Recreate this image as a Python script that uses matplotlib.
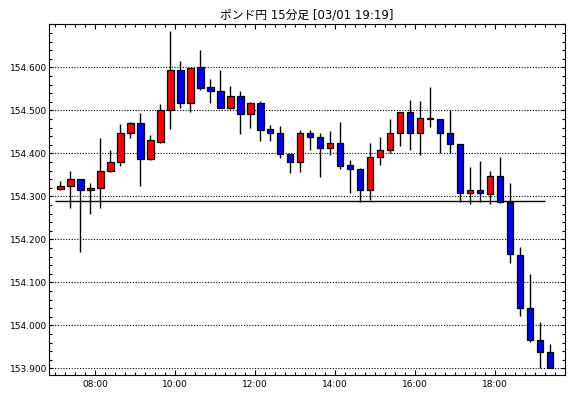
import matplotlib
matplotlib.use('Agg')
import matplotlib.pyplot as plt
from matplotlib.ticker import MultipleLocator, FixedLocator, FuncFormatter
import numpy as np

# 15分足 07:00 - 19:15
start_hour = 7.0
opens = [154.316, 154.323, 154.340, 154.314, 154.319, 154.358, 154.379, 154.447, 154.470, 154.386,
         154.426, 154.500, 154.593, 154.516, 154.600, 154.554, 154.545, 154.506, 154.533, 154.492,
         154.517, 154.456, 154.447, 154.398, 154.379, 154.447, 154.437, 154.412, 154.423, 154.372,
         154.363, 154.315, 154.391, 154.407, 154.447, 154.495, 154.447, 154.481, 154.479, 154.447,
         154.421, 154.307, 154.314, 154.305, 154.347, 154.287, 154.163, 154.040, 153.965, 153.937]
highs = [154.336, 154.359, 154.340, 154.331, 154.436, 154.408, 154.468, 154.473, 154.494, 154.443,
         154.515, 154.684, 154.614, 154.598, 154.640, 154.573, 154.594, 154.556, 154.545, 154.520,
         154.522, 154.466, 154.463, 154.398, 154.454, 154.454, 154.447, 154.452, 154.473, 154.384,
         154.365, 154.423, 154.438, 154.480, 154.495, 154.524, 154.522, 154.554, 154.480, 154.501,
         154.421, 154.367, 154.382, 154.359, 154.392, 154.331, 154.181, 154.119, 154.008, 153.956]
lows = [154.314, 154.273, 154.170, 154.260, 154.273, 154.356, 154.371, 154.436, 154.323, 154.384,
        154.423, 154.457, 154.506, 154.497, 154.547, 154.518, 154.506, 154.503, 154.446, 154.460,
        154.429, 154.429, 154.390, 154.355, 154.357, 154.408, 154.346, 154.397, 154.364, 154.308,
        154.287, 154.292, 154.373, 154.400, 154.417, 154.408, 154.397, 154.462, 154.400, 154.400,
        154.287, 154.281, 154.287, 154.282, 154.284, 154.146, 154.022, 153.962, 153.900, 153.901]
closes = [154.324, 154.340, 154.314, 154.319, 154.358, 154.379, 154.447, 154.470, 154.386, 154.431,
          154.500, 154.593, 154.516, 154.598, 154.553, 154.544, 154.506, 154.533, 154.492, 154.516,
          154.455, 154.447, 154.398, 154.379, 154.447, 154.437, 154.412, 154.423, 154.371, 154.363,
          154.315, 154.391, 154.408, 154.447, 154.495, 154.447, 154.481, 154.480, 154.447, 154.421,
          154.307, 154.314, 154.307, 154.347, 154.287, 154.165, 154.040, 153.965, 153.939, 153.901]
ref_level = 154.288
price_ticks = [153.9, 154.0, 154.1, 154.2, 154.3, 154.4, 154.5, 154.6]
title = 'ポンド円 15分足 [03/01 19:19]'

plt.rcParams['font.family'] = ['Noto Sans CJK JP', 'DejaVu Sans']


def hhmm(x, pos):
    h = int(round(x * 60)) // 60
    m = int(round(x * 60)) % 60
    return '%02d:%02d' % (h, m)


def main():
    o = np.array(opens)
    c = np.array(closes)
    times = start_hour + 0.25 * np.arange(len(o))
    xc = times + 0.125

    fig = plt.figure(figsize=(5.7, 3.98), dpi=100)
    ax = fig.add_axes([0.0865, 0.057, 0.9047, 0.8827])

    for y in price_ticks:
        ax.axhline(y, color='black', lw=0.8, ls=(0, (1, 1.5)), zorder=1)
    ax.hlines(ref_level, start_hour, times[-1], color='black', lw=1.0, zorder=2)

    ax.vlines(xc, lows, highs, color='black', lw=1.0, zorder=3)
    cols = np.where(c > o, '#ff0000', '#0000ff')
    ax.bar(xc, np.abs(c - o), bottom=np.minimum(o, c), width=10 / 60,
           color=cols, edgecolor='black', linewidth=0.9, zorder=4)

    ax.set_xlim(6 + 51 / 60, 19.75)
    ax.set_ylim(153.8837, 154.7007)

    ax.xaxis.set_major_locator(MultipleLocator(2))
    ax.xaxis.set_minor_locator(MultipleLocator(0.25))
    ax.xaxis.set_major_formatter(FuncFormatter(hhmm))
    ax.yaxis.set_major_locator(FixedLocator(price_ticks))
    ax.yaxis.set_minor_locator(MultipleLocator(0.02))
    ax.yaxis.set_major_formatter(FuncFormatter(lambda v, p: '%.3f' % v))
    ax.tick_params(which='both', direction='in', top=True, right=True, width=0.8,
                   labelsize=6.5, colors='black')
    ax.tick_params(axis='x', which='major', length=3.3, pad=3.5)
    ax.tick_params(axis='x', which='minor', length=2.0)
    ax.tick_params(axis='y', which='major', length=2.9, pad=1.5)
    ax.tick_params(axis='y', which='minor', length=2.2)
    for lab in ax.get_xticklabels() + ax.get_yticklabels():
        lab.set_family('DejaVu Sans')
    for s in ax.spines.values():
        s.set_linewidth(0.8)

    ax.set_title(title, fontsize=8.5, pad=4, family=['DejaVu Sans', 'Noto Sans CJK JP'])
    fig.savefig('out.png', dpi=100)


if __name__ == '__main__':
    main()
